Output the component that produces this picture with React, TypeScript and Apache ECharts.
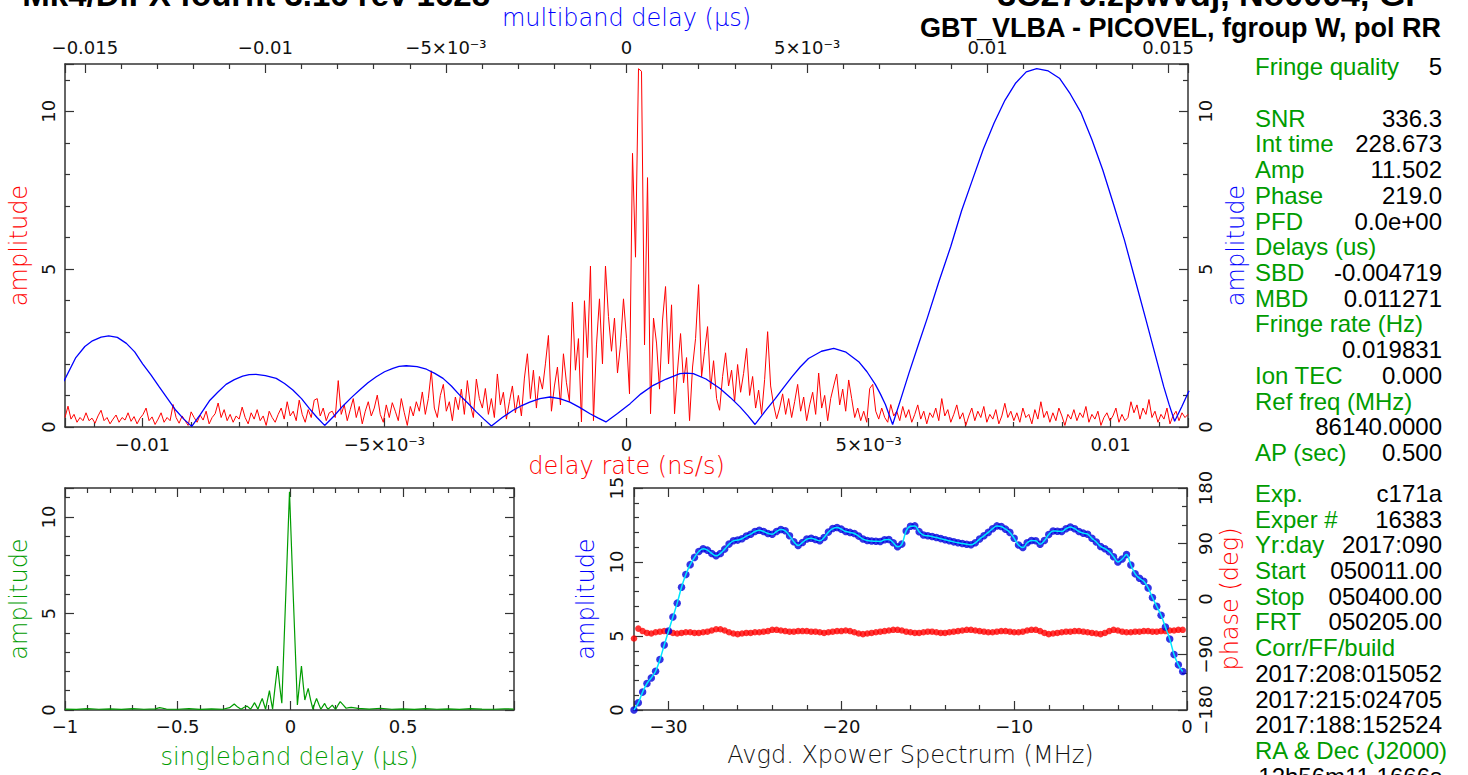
import React, { useEffect, useRef } from 'react';
import * as echarts from 'echarts';

// ---------- data ----------
const RATE_MIN = -0.0116;
const RATE_MAX = 0.0116;
const MBD_MIN = -0.01555;
const MBD_MAX = 0.01555;
const SBD_MIN = -1;
const SBD_MAX = 0.992;
const SPEC_MIN = -32;
const SPEC_MAX = 0;
const SPEC_STEP = 0.25;

// delay-rate amplitude, evenly sampled from RATE_MIN to RATE_MAX
const RED_AMP = [
  0.3,0.66,0.25,0.4,0.15,0.3,0.2,0.45,0.2,0.28,0.12,0.35,0.53,0.2,0.3,0.1,0.25,0.38,0.15,0.3,0.22,0.45,0.18,0.33,0.1,
  0.28,0.4,0.6,0.2,0.32,0.08,0.25,0.45,0.15,0.3,0.2,0.71,0.3,0.12,0.35,0.2,0.05,0.48,0.3,0.15,0.38,0.22,0.5,0.1,0.3,
  0.42,0.76,0.3,0.55,0.2,0.4,0.15,0.35,0.25,0.63,0.3,0.1,0.45,0.25,0.55,0.2,0.35,0.05,0.5,0.3,0.15,0.4,0.6,0.25,0.8,
  0.35,0.5,0.2,0.85,0.4,0.15,0.55,0.3,0.85,0.9,0.35,0.6,0.2,0.45,0.5,0.3,1.47,0.4,0.7,0.2,0.55,0.9,0.3,0.65,0.1,
  0.5,0.8,0.35,0.6,1.01,0.4,0.15,0.7,0.3,0.77,0.5,0.2,0.9,0.45,0.05,0.65,0.35,0.8,0.5,1.11,0.4,0.9,1.78,0.6,0.3,
  1.0,1.35,0.5,0.8,0.2,0.95,0.55,1.2,0.4,1.47,0.7,0.3,1.52,0.9,0.6,1.22,0.4,0.9,0.3,1.68,0.7,1.1,0.25,0.8,1.3,
  0.45,1.0,0.35,1.55,2.32,0.9,1.8,0.6,1.6,1.2,2.0,2.9,0.5,1.3,1.9,0.7,2.32,1.4,0.8,3.96,1.8,2.8,0.16,4.0,2.2,
  5.1,0.2,2.6,4.06,2.0,5.1,3.5,2.4,3.45,1.71,2.6,4.06,2.8,1.05,8.67,5.38,11.35,11.27,2.6,7.9,0.42,3.45,2.66,1.2,3.39,
  4.45,2.0,3.87,0.42,1.8,2.96,1.4,2.2,0.2,1.9,2.8,4.51,1.59,2.4,3.18,1.2,2.1,0.9,0.53,1.6,2.35,1.3,1.8,0.8,1.98,
  1.1,1.7,2.49,1.0,1.6,0.6,1.17,0.4,1.5,3.02,1.3,0.7,0.26,0.6,1.05,0.4,0.9,0.3,0.8,1.35,0.5,0.95,0.2,0.7,1.1,
  0.4,1.71,0.6,1.0,0.2,0.9,1.3,1.68,0.7,1.2,0.5,1.49,0.9,0.3,0.6,0.2,0.5,0.15,1.22,1.35,0.5,0.25,0.6,0.3,0.15,
  0.71,0.35,0.5,0.2,0.65,0.3,0.55,0.15,0.4,0.7,0.25,0.5,0.1,0.45,0.3,0.6,0.2,0.9,0.35,0.55,0.15,0.4,0.7,0.25,0.45,
  0.05,0.35,0.6,0.2,0.5,0.3,0.65,0.15,0.4,0.25,0.55,0.1,0.35,0.75,0.3,0.5,0.2,0.45,0.15,0.6,0.3,0.4,0.1,0.55,0.25,
  0.8,0.3,0.5,0.15,0.45,0.2,0.6,0.35,0.05,0.4,0.25,0.55,0.2,0.45,0.3,0.65,0.15,0.4,0.25,0.5,0.05,0.3,0.45,0.2,0.35,
  0.6,0.15,0.4,0.2,0.3,0.8,0.45,0.7,0.25,0.6,0.4,0.87,0.3,0.5,0.15,0.4,0.25,0.6,0.1,0.35,0.5,0.2,0.45,0.3,0.4,
];

// multiband delay (us) vs amplitude
const MBD_CURVE: [number, number][] = [
  [-0.01558,1.45],[-0.01525,2.2],[-0.015,2.55],[-0.01479,2.73],[-0.01455,2.85],[-0.01434,2.89],
  [-0.0141,2.84],[-0.01385,2.65],[-0.01362,2.38],[-0.0134,2.0],[-0.01317,1.65],[-0.01294,1.27],
  [-0.01271,0.9],[-0.01248,0.53],[-0.01226,0.25],[-0.01204,0.02],[-0.0118,0.4],[-0.01155,0.83],
  [-0.01132,1.1],[-0.01109,1.35],[-0.01086,1.5],[-0.01063,1.61],[-0.01045,1.66],[-0.01026,1.67],
  [-0.01,1.63],[-0.0097,1.54],[-0.00947,1.38],[-0.00924,1.17],[-0.009,0.9],[-0.00878,0.58],
  [-0.00857,0.3],[-0.00836,0.05],[-0.0081,0.35],[-0.00786,0.66],[-0.00762,0.93],[-0.00739,1.17],
  [-0.00716,1.4],[-0.00693,1.59],[-0.0067,1.75],[-0.00647,1.86],[-0.0063,1.92],[-0.0061,1.94],
  [-0.0058,1.91],[-0.00554,1.83],[-0.00531,1.7],[-0.00508,1.54],[-0.00485,1.3],[-0.00462,1.01],
  [-0.00439,0.75],[-0.00416,0.48],[-0.00395,0.25],[-0.00374,0.03],[-0.00344,0.3],[-0.00314,0.53],
  [-0.0029,0.68],[-0.00268,0.79],[-0.0024,0.9],[-0.00212,0.95],[-0.00185,0.9],[-0.00157,0.79],
  [-0.0013,0.62],[-0.00101,0.42],[-0.00078,0.28],[-0.00057,0.16],[-0.00025,0.43],[0.0001,0.74],
  [0.0004,1.05],[0.00074,1.32],[0.0011,1.52],[0.00148,1.69],[0.00165,1.71],[0.00185,1.69],
  [0.0022,1.52],[0.00259,1.22],[0.00288,0.93],[0.00315,0.63],[0.00336,0.36],[0.00356,0.08],
  [0.00384,0.5],[0.00412,0.9],[0.00435,1.25],[0.00458,1.59],[0.00481,1.9],[0.00504,2.17],
  [0.0054,2.4],[0.00574,2.49],[0.00608,2.37],[0.00643,2.07],[0.00666,1.75],[0.00689,1.35],
  [0.00703,1.05],[0.00717,0.71],[0.00737,0.08],[0.0076,0.9],[0.00782,1.7],[0.00808,2.6],
  [0.00833,3.45],[0.00865,4.6],[0.00898,5.72],[0.00928,6.85],[0.00958,7.83],[0.00988,8.8],
  [0.01018,9.63],[0.01048,10.35],[0.01078,10.9],[0.01107,11.25],[0.01136,11.35],[0.01168,11.28],
  [0.01199,11.05],[0.01229,10.55],[0.01259,9.95],[0.01289,9.1],[0.01319,8.14],[0.01349,7.05],
  [0.01379,5.92],[0.01409,4.65],[0.01439,3.38],[0.01464,2.3],[0.01488,1.27],[0.01503,0.7],
  [0.01518,0.18],[0.01538,0.65],[0.01558,1.15],
];

// singleband delay (us) vs amplitude
const SBD_CURVE: [number, number][] = [
  [-1,0.05],[-0.95,0.03],[-0.9,0.07],[-0.85,0.04],[-0.8,0.06],[-0.75,0.03],[-0.7,0.07],[-0.65,0.04],
  [-0.6,0.06],[-0.58,0.12],[-0.55,0.05],[-0.5,0.04],[-0.45,0.07],[-0.4,0.03],[-0.35,0.06],[-0.3,0.04],
  [-0.27,0.12],[-0.249,0.31],[-0.234,0.15],[-0.219,0.04],[-0.205,0.14],[-0.192,0.2],[-0.184,0.12],
  [-0.177,0.04],[-0.168,0.2],[-0.159,0.38],[-0.151,0.2],[-0.144,0.04],[-0.134,0.35],[-0.125,0.6],
  [-0.117,0.3],[-0.11,0.04],[-0.101,0.55],[-0.093,1.0],[-0.086,0.5],[-0.079,0.04],[-0.068,1.2],
  [-0.057,2.28],[-0.047,1.2],[-0.038,0.35],[-0.021,5.8],[-0.004,11.3],[0.013,5.8],[0.031,0.26],
  [0.04,1.3],[0.049,2.28],[0.057,1.3],[0.064,0.52],[0.072,0.85],[0.079,1.12],[0.09,0.5],[0.1,0.04],
  [0.108,0.35],[0.116,0.6],[0.126,0.3],[0.135,0.04],[0.144,0.2],[0.152,0.34],[0.16,0.15],[0.167,0.04],
  [0.177,0.15],[0.186,0.25],[0.194,0.12],[0.201,0.04],[0.211,0.25],[0.221,0.43],[0.235,0.25],
  [0.247,0.09],[0.26,0.12],[0.27,0.14],[0.3,0.08],[0.35,0.05],[0.4,0.09],[0.45,0.04],[0.5,0.06],
  [0.55,0.03],[0.6,0.07],[0.65,0.04],[0.7,0.06],[0.75,0.03],[0.8,0.07],[0.85,0.05],[0.9,0.04],
  [0.95,0.06],[0.99,0.05],
];

// averaged cross-power spectrum, one value per 0.25 MHz from -32 MHz
const SPEC_AMP = [
  0,0.49,1.21,1.79,2.17,2.62,3.41,4.39,5.34,6.28,7.22,8.29,9.15,9.82,10.31,10.71,
  10.89,10.8,10.58,10.42,10.58,10.87,11.21,11.43,11.48,11.57,11.75,11.88,12.06,12.15,12.06,11.93,
  11.88,12.06,12.2,12.11,11.77,11.37,11.12,11.32,11.55,11.61,11.52,11.43,11.66,12.02,12.26,12.33,
  12.22,12.06,12.0,11.93,11.75,11.55,11.45,11.42,11.4,11.39,11.5,11.52,11.3,11.03,11.21,12.1,
  12.42,12.44,12.05,11.82,11.77,11.72,11.66,11.58,11.5,11.43,11.36,11.3,11.25,11.2,11.16,11.3,
  11.55,11.77,12.0,12.25,12.44,12.4,12.22,12.0,11.6,11.15,10.98,11.3,11.45,11.43,11.2,11.45,
  11.85,12.1,12.08,12.06,12.25,12.37,12.25,12.06,11.95,11.88,11.6,11.35,11.05,10.9,10.7,10.35,
  10.0,10.2,10.5,9.8,9.2,8.9,8.7,8.25,7.6,7.0,6.4,5.6,4.8,3.75,3.05,2.6,
];
const SPEC_PHASE = [
  -64,-48,-52,-55,-56,-54,-53,-52,-53,-55,-56,-55,-54,-54,-55,-55,
  -54,-53,-51,-49,-49,-51,-54,-56,-57,-56,-55,-55,-54,-54,-53,-52,
  -50,-50,-51,-52,-53,-53,-52,-52,-52,-53,-53,-54,-55,-54,-53,-52,
  -52,-51,-52,-54,-56,-57,-56,-55,-54,-53,-52,-51,-50,-50,-51,-53,
  -54,-55,-55,-54,-53,-53,-54,-55,-55,-54,-53,-52,-51,-50,-50,-51,
  -52,-53,-54,-54,-53,-52,-52,-53,-54,-54,-53,-51,-50,-50,-52,-55,
  -57,-56,-55,-54,-53,-53,-52,-52,-53,-54,-55,-56,-57,-55,-52,-50,
  -51,-53,-54,-54,-53,-53,-52,-52,-53,-53,-52,-52,-51,-51,-50,-50,
];

const TITLE_LEFT = 'Mk4/DiFX fourfit 3.16 rev 1628';
const TITLE_RIGHT = '3C279.zpwvdj, No0004, GP';
const SUBTITLE = 'GBT_VLBA - PICOVEL, fgroup W, pol RR';

const INFO_UPPER: [string, string][] = [
  ['Fringe quality', '5'], ['', ''], ['SNR', '336.3'], ['Int time', '228.673'], ['Amp', '11.502'],
  ['Phase', '219.0'], ['PFD', '0.0e+00'], ['Delays (us)', ''], ['SBD', '-0.004719'], ['MBD', '0.011271'],
  ['Fringe rate (Hz)', ''], ['', '0.019831'], ['Ion TEC', '0.000'], ['Ref freq (MHz)', ''],
  ['', '86140.0000'], ['AP (sec)', '0.500'],
];
const INFO_LOWER: [string, string][] = [
  ['Exp.', 'c171a'], ['Exper #', '16383'], ['Yr:day', '2017:090'], ['Start', '050011.00'],
  ['Stop', '050400.00'], ['FRT', '050205.00'], ['Corr/FF/build', ''], ['', '2017:208:015052'],
  ['', '2017:215:024705'], ['', '2017:188:152524'], ['RA & Dec (J2000)', ''], ['', '12h56m11.1666s'],
];

// ---------- styling ----------
const RED = '#ff0000';
const BLUE = '#0000ff';
const GREEN = '#009c00';
const AX_FONT = '"DejaVu Sans", sans-serif';
const INFO_FONT = '"Liberation Sans", Arial, sans-serif';

const MINUS = '\u2212';
function fmtSmall(v: number): string {
  if (Math.abs(v) < 1e-12) return '0';
  const s = v < 0 ? MINUS : '';
  const a = Math.abs(v);
  if (Math.abs(a - 0.005) < 1e-9) return s + '5\u00d710\u207b\u00b3';
  return s + String(parseFloat(a.toFixed(5)));
}
function fmtPlain(v: number): string {
  if (Math.abs(v) < 1e-12) return '0';
  return (v < 0 ? MINUS : '') + String(parseFloat(Math.abs(v).toFixed(4)));
}

const axisLine = { show: true, onZero: false, lineStyle: { color: '#333', width: 1.5 } };
const majorTick = { show: true, inside: true, length: 9, lineStyle: { color: '#333', width: 1.2 } };
const minorTick = (n: number) => ({ show: true, splitNumber: n, length: 5, lineStyle: { color: '#333', width: 1.2 } });
const nameStyle = (color: string) => ({ color, fontFamily: AX_FONT, fontSize: 24, fontWeight: 300 });
const labelBase = { color: '#111', fontFamily: AX_FONT, fontSize: 18 };

function xAx(extra: any) {
  return {
    type: 'value', axisLine, axisTick: majorTick, splitLine: { show: false },
    nameLocation: 'middle', nameMoveOverlap: false, ...extra,
  };
}
function yAx(extra: any) {
  return {
    type: 'value', axisLine, axisTick: majorTick, splitLine: { show: false },
    nameLocation: 'middle', nameMoveOverlap: false, ...extra,
  };
}

function buildOption() {
  const rateStep = (RATE_MAX - RATE_MIN) / (RED_AMP.length - 1);
  const redData = RED_AMP.map((v, i) => [RATE_MIN + i * rateStep, v]);
  const specAmp = SPEC_AMP.map((v, k) => [SPEC_MIN + k * SPEC_STEP, v]);
  const specPhase = SPEC_PHASE.map((v, k) => [SPEC_MIN + k * SPEC_STEP, v]);

  const graphics: any[] = [];
  const txt = (x: number, y: number, text: string, fill: string, align: string, size: number, weight = 'normal', family = INFO_FONT) => ({
    type: 'text', x, y, silent: true,
    style: { text, fill, fontSize: size, fontFamily: family, fontWeight: weight, align, textAlign: align, verticalAlign: 'middle', textVerticalAlign: 'middle' },
  });
  graphics.push(txt(490, -6, TITLE_LEFT, '#000', 'right', 33, 'bold'));
  graphics.push(txt(1428, -6, TITLE_RIGHT, '#000', 'right', 34, 'bold'));
  graphics.push(txt(1441, 28, SUBTITLE, '#000', 'right', 27, 'bold'));
  INFO_UPPER.forEach(([l, v], i) => {
    const y = 66.7 + 25.72 * i;
    if (l) graphics.push(txt(1255, y, l, GREEN, 'left', 24));
    if (v) graphics.push(txt(1442, y, v, '#000', 'right', 24));
  });
  INFO_LOWER.forEach(([l, v], i) => {
    const y = 493.3 + 25.72 * i;
    if (l) graphics.push(txt(1255, y, l, GREEN, 'left', 24));
    if (v) graphics.push(txt(1442, y, v, '#000', 'right', 24));
  });

  return {
    animation: false,
    backgroundColor: '#ffffff',
    grid: [
      { left: 65, top: 64, width: 1123, height: 363, containLabel: false, outerBoundsMode: 'none' },
      { left: 65, top: 488, width: 449, height: 222, containLabel: false, outerBoundsMode: 'none' },
      { left: 634, top: 488, width: 553, height: 222, containLabel: false, outerBoundsMode: 'none' },
    ],
    xAxis: [
      xAx({
        gridIndex: 0, position: 'bottom', min: RATE_MIN, max: RATE_MAX, splitNumber: 5, minorTick: minorTick(5),
        axisLabel: { ...labelBase, margin: 8, formatter: fmtSmall, showMinLabel: false, showMaxLabel: false },
        name: 'delay rate (ns/s)', nameGap: 27, nameTextStyle: nameStyle(RED),
      }),
      xAx({
        gridIndex: 0, position: 'top', min: MBD_MIN, max: MBD_MAX, splitNumber: 5, minorTick: minorTick(5),
        axisLabel: { ...labelBase, margin: 8, formatter: fmtSmall, showMinLabel: false, showMaxLabel: false },
        name: 'multiband delay (\u03bcs)', nameGap: 34, nameTextStyle: nameStyle(BLUE),
      }),
      xAx({
        gridIndex: 1, position: 'bottom', min: SBD_MIN, max: SBD_MAX, splitNumber: 4, minorTick: minorTick(5),
        axisLabel: { ...labelBase, margin: 7, formatter: fmtPlain, showMaxLabel: false },
        name: 'singleband delay (\u03bcs)', nameGap: 35, nameTextStyle: nameStyle(GREEN),
      }),
      xAx({
        gridIndex: 1, position: 'top', min: SBD_MIN, max: SBD_MAX, splitNumber: 4, minorTick: minorTick(5),
        axisLabel: { show: false },
      }),
      xAx({
        gridIndex: 2, position: 'bottom', min: SPEC_MIN, max: SPEC_MAX, splitNumber: 3, minorTick: minorTick(5),
        axisLabel: { ...labelBase, margin: 7, formatter: fmtPlain, showMinLabel: false },
        name: 'Avgd. Xpower Spectrum (MHz)', nameGap: 33, nameTextStyle: nameStyle('#111'),
      }),
      xAx({
        gridIndex: 2, position: 'top', min: SPEC_MIN, max: SPEC_MAX, splitNumber: 3, minorTick: minorTick(5),
        axisLabel: { show: false },
      }),
    ],
    yAxis: [
      yAx({
        gridIndex: 0, position: 'left', min: 0, max: 11.5, interval: 5, minorTick: minorTick(5),
        axisLabel: { ...labelBase, rotate: 90, margin: 8, formatter: fmtPlain, showMaxLabel: false },
        name: 'amplitude', nameGap: 34, nameTextStyle: nameStyle(RED),
      }),
      yAx({
        gridIndex: 0, position: 'right', min: 0, max: 11.5, interval: 5, minorTick: minorTick(5),
        axisLabel: { ...labelBase, rotate: 90, margin: 8, formatter: fmtPlain, showMaxLabel: false },
        name: 'amplitude', nameGap: 36, nameTextStyle: nameStyle(BLUE),
      }),
      yAx({
        gridIndex: 1, position: 'left', min: 0, max: 11.5, interval: 5, minorTick: minorTick(5),
        axisLabel: { ...labelBase, rotate: 90, margin: 8, formatter: fmtPlain, showMaxLabel: false },
        name: 'amplitude', nameGap: 34, nameTextStyle: nameStyle(GREEN),
      }),
      yAx({
        gridIndex: 1, position: 'right', min: 0, max: 11.5, interval: 5, minorTick: minorTick(5),
        axisLabel: { show: false },
      }),
      yAx({
        gridIndex: 2, position: 'left', min: 0, max: 15, interval: 5, minorTick: minorTick(5),
        axisLabel: { ...labelBase, rotate: 90, margin: 9, formatter: fmtPlain },
        name: 'amplitude', nameGap: 36, nameTextStyle: nameStyle(BLUE),
      }),
      yAx({
        gridIndex: 2, position: 'right', min: -180, max: 180, interval: 90, minorTick: minorTick(3),
        axisLabel: { ...labelBase, rotate: 90, margin: 9, formatter: fmtPlain },
        name: 'phase (deg)', nameGap: 31, nameTextStyle: nameStyle(RED),
      }),
    ],
    series: [
      {
        type: 'line', xAxisIndex: 0, yAxisIndex: 0, data: redData, symbol: 'none', silent: true,
        lineStyle: { color: RED, width: 1 }, z: 2,
      },
      {
        type: 'line', xAxisIndex: 1, yAxisIndex: 1, data: MBD_CURVE, symbol: 'none', silent: true,
        lineStyle: { color: BLUE, width: 1.3 }, z: 3,
      },
      {
        type: 'line', xAxisIndex: 2, yAxisIndex: 2, data: SBD_CURVE, symbol: 'none', silent: true,
        lineStyle: { color: GREEN, width: 1.2 }, z: 2,
      },
      {
        type: 'scatter', xAxisIndex: 4, yAxisIndex: 5, data: specPhase, symbolSize: 6.5, silent: true,
        itemStyle: { color: RED }, z: 2,
      },
      {
        type: 'scatter', xAxisIndex: 4, yAxisIndex: 4, data: specAmp, symbolSize: 7.5, silent: true,
        itemStyle: { color: '#0000dd' }, z: 3,
      },
      {
        type: 'line', xAxisIndex: 4, yAxisIndex: 4, data: specAmp, symbol: 'none', smooth: 0.4, silent: true,
        lineStyle: { color: '#00e8ff', width: 1.5 }, z: 4,
      },
    ],
    graphic: { elements: graphics },
  };
}

export default function App() {
  const ref = useRef<HTMLDivElement>(null);
  useEffect(() => {
    if (!ref.current) return;
    const chart = echarts.init(ref.current, null, { renderer: 'svg' });
    chart.setOption(buildOption() as any);
    return () => chart.dispose();
  }, []);
  return <div ref={ref} style={{ position: 'absolute', left: 0, top: 0, width: 1468, height: 775, background: '#fff' }} />;
}
